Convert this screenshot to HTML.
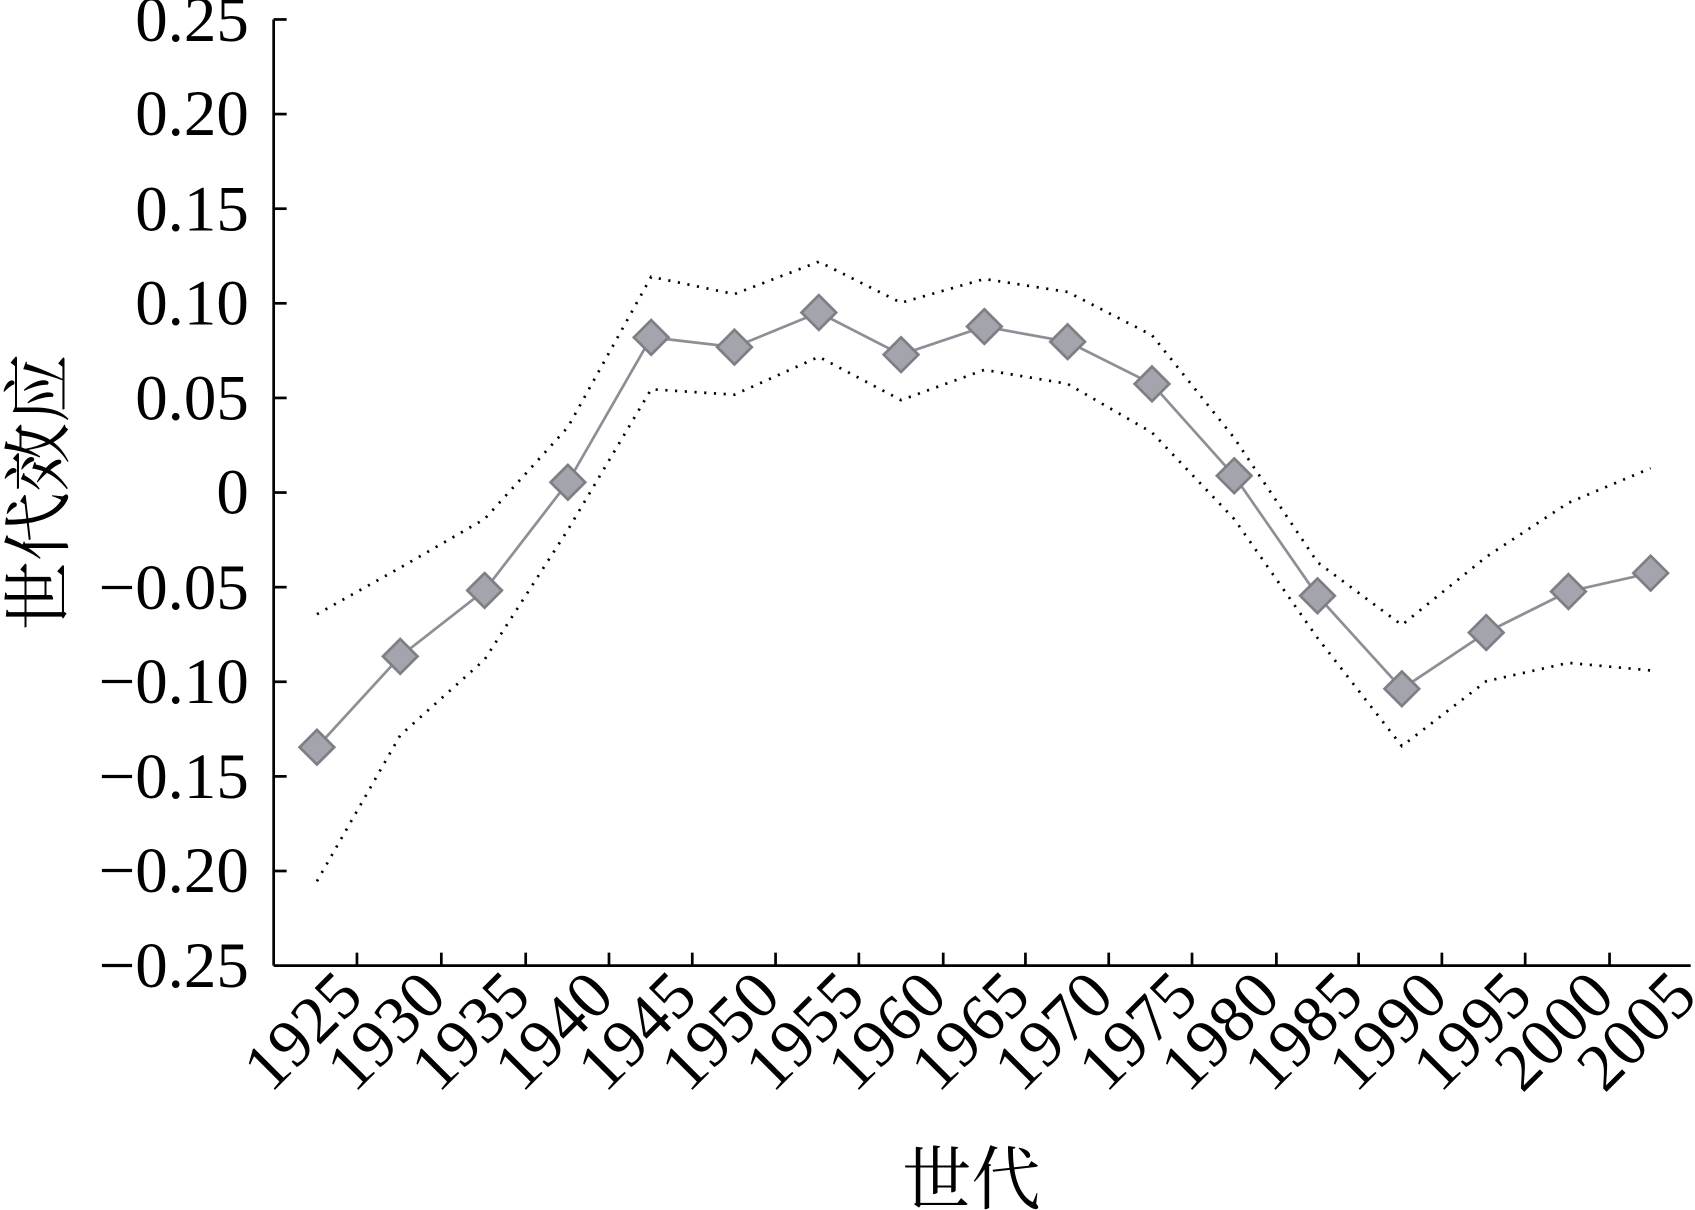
<!DOCTYPE html>
<html><head><meta charset="utf-8"><style>html,body{margin:0;padding:0;background:#fff}svg{display:block}</style></head>
<body>
<svg width="1695" height="1210" viewBox="0 0 1567 1119" preserveAspectRatio="none" xmlns="http://www.w3.org/2000/svg" font-family="'Liberation Serif','Noto Serif CJK SC',serif">
<g stroke="#000" stroke-width="2.5" fill="none">
<line x1="253" y1="18" x2="253" y2="893"/>
<line x1="253" y1="893" x2="1563" y2="893"/>
<line x1="253" y1="18" x2="265" y2="18"/><line x1="253" y1="105.5" x2="265" y2="105.5"/><line x1="253" y1="193" x2="265" y2="193"/><line x1="253" y1="280.5" x2="265" y2="280.5"/><line x1="253" y1="368" x2="265" y2="368"/><line x1="253" y1="455.5" x2="265" y2="455.5"/><line x1="253" y1="543" x2="265" y2="543"/><line x1="253" y1="630.5" x2="265" y2="630.5"/><line x1="253" y1="718" x2="265" y2="718"/><line x1="253" y1="805.5" x2="265" y2="805.5"/>
<line x1="330" y1="893" x2="330" y2="881"/><line x1="408" y1="893" x2="408" y2="881"/><line x1="486" y1="893" x2="486" y2="881"/><line x1="563" y1="893" x2="563" y2="881"/><line x1="640" y1="893" x2="640" y2="881"/><line x1="717" y1="893" x2="717" y2="881"/><line x1="794" y1="893" x2="794" y2="881"/><line x1="872" y1="893" x2="872" y2="881"/><line x1="948" y1="893" x2="948" y2="881"/><line x1="1025" y1="893" x2="1025" y2="881"/><line x1="1102" y1="893" x2="1102" y2="881"/><line x1="1180" y1="893" x2="1180" y2="881"/><line x1="1256" y1="893" x2="1256" y2="881"/><line x1="1333" y1="893" x2="1333" y2="881"/><line x1="1410" y1="893" x2="1410" y2="881"/><line x1="1488" y1="893" x2="1488" y2="881"/>
</g>
<g font-size="60" text-anchor="end" fill="#000">
<text x="230" y="38">0.25</text><text x="230" y="125">0.20</text><text x="230" y="213">0.15</text><text x="230" y="300">0.10</text><text x="230" y="388">0.05</text><text x="230" y="475">0</text><text x="230" y="563">−0.05</text><text x="230" y="650">−0.10</text><text x="230" y="738">−0.15</text><text x="230" y="825">−0.20</text><text x="230" y="913">−0.25</text>
</g>
<g font-size="62" text-anchor="end" fill="#000">
<text transform="translate(338,924) rotate(-45)">1925</text>
<text transform="translate(415,924) rotate(-45)">1930</text>
<text transform="translate(493,924) rotate(-45)">1935</text>
<text transform="translate(570,924) rotate(-45)">1940</text>
<text transform="translate(647,924) rotate(-45)">1945</text>
<text transform="translate(724,924) rotate(-45)">1950</text>
<text transform="translate(802,924) rotate(-45)">1955</text>
<text transform="translate(878,924) rotate(-45)">1960</text>
<text transform="translate(955,924) rotate(-45)">1965</text>
<text transform="translate(1032,924) rotate(-45)">1970</text>
<text transform="translate(1110,924) rotate(-45)">1975</text>
<text transform="translate(1186,924) rotate(-45)">1980</text>
<text transform="translate(1263,924) rotate(-45)">1985</text>
<text transform="translate(1341,924) rotate(-45)">1990</text>
<text transform="translate(1419,924) rotate(-45)">1995</text>
<text transform="translate(1495,924) rotate(-45)">2000</text>
<text transform="translate(1571,924) rotate(-45)">2005</text>
</g>
<text x="898" y="1113" font-size="64" text-anchor="middle">世代</text>
<text transform="translate(58,455) rotate(-90)" font-size="64" text-anchor="middle">世代效应</text>
<g fill="none" stroke="#000" stroke-width="2.5" stroke-dasharray="2,7">
<polyline points="293,568 370,525 448,480 525,395 602,256 679,272 757,242 833,280 910,258 987,270 1065,310 1141,405 1218,520 1296,578 1374,515 1450,465 1526,433"/>
<polyline points="293,815 370,680 448,610 525,490 602,360 679,365 757,330 833,370 910,342 987,355 1065,400 1141,480 1218,590 1296,690 1374,630 1450,613 1526,620"/>
</g>
<polyline fill="none" stroke="#8e8e96" stroke-width="2.5" points="293,691 370,607 448,546 525,446 602,312 679,321 757,289 833,328 910,302 987,316 1065,355 1141,440 1218,551 1296,637 1374,585 1450,547 1526,530"/>
<g fill="#a4a4ac" stroke="#7e7e86" stroke-width="2.5">
<path d="M293,675l16,16l-16,16l-16,-16z"/><path d="M370,591l16,16l-16,16l-16,-16z"/><path d="M448,530l16,16l-16,16l-16,-16z"/><path d="M525,430l16,16l-16,16l-16,-16z"/><path d="M602,296l16,16l-16,16l-16,-16z"/><path d="M679,305l16,16l-16,16l-16,-16z"/><path d="M757,273l16,16l-16,16l-16,-16z"/><path d="M833,312l16,16l-16,16l-16,-16z"/><path d="M910,286l16,16l-16,16l-16,-16z"/><path d="M987,300l16,16l-16,16l-16,-16z"/><path d="M1065,339l16,16l-16,16l-16,-16z"/><path d="M1141,424l16,16l-16,16l-16,-16z"/><path d="M1218,535l16,16l-16,16l-16,-16z"/><path d="M1296,621l16,16l-16,16l-16,-16z"/><path d="M1374,569l16,16l-16,16l-16,-16z"/><path d="M1450,531l16,16l-16,16l-16,-16z"/><path d="M1526,514l16,16l-16,16l-16,-16z"/>
</g>
</svg>
</body></html>
